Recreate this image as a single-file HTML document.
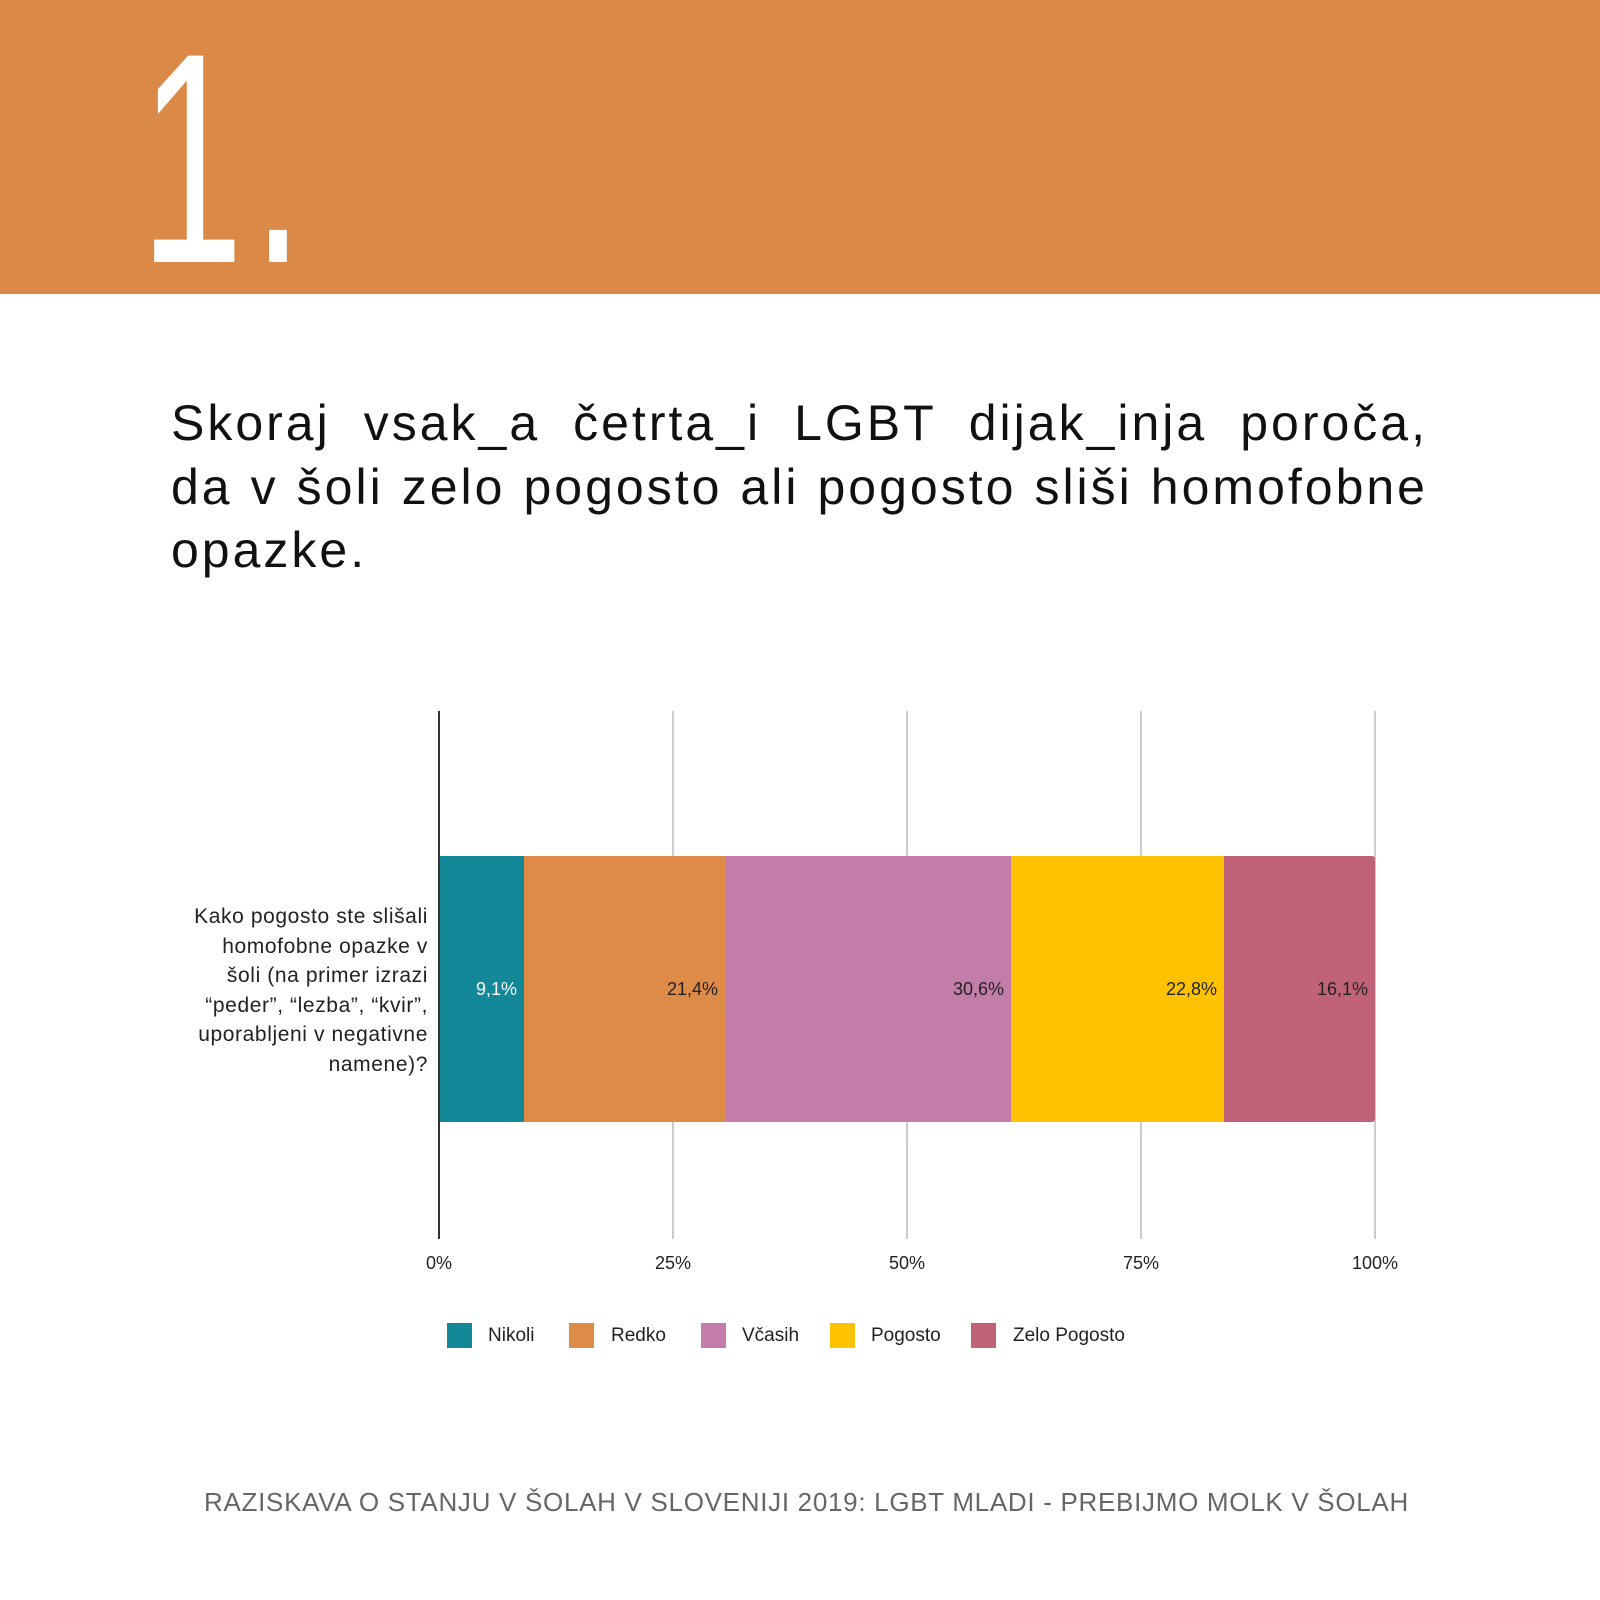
<!DOCTYPE html>
<html><head><meta charset="utf-8"><style>
body{margin:0;width:1600px;height:1600px;background:#fff;position:relative;overflow:hidden;font-family:"Liberation Sans","DejaVu Sans",sans-serif}
.hdr{position:absolute;left:0;top:0;width:1600px;height:294px;background:#DB8946}
.num{position:absolute;left:140px;top:8px;font-size:300px;color:#fff;font-weight:100;line-height:1;letter-spacing:14px;transform:scaleX(0.62);transform-origin:left top}
.hl{position:absolute;left:171px;width:1257px;font-size:50px;line-height:63.5px;color:#111;text-align:justify;text-align-last:justify;white-space:nowrap;letter-spacing:3px}
.grid{position:absolute;top:711px;height:528px;width:2px;background:#ccc}
.bar{position:absolute;top:856px;height:266px}
.val{position:absolute;top:979px;font-size:18px;color:#222;text-align:right}
.tick{position:absolute;top:1253px;font-size:18px;color:#222;width:80px;text-align:center}
.q{position:absolute;right:1172px;top:902px;width:300px;text-align:right;font-size:21px;letter-spacing:0.6px;line-height:29.6px;color:#222;white-space:nowrap}
.sq{position:absolute;top:1323px;width:25px;height:25px}
.lt{position:absolute;top:1323px;font-size:19px;line-height:25px;color:#222}
.foot{position:absolute;left:204px;top:1487px;font-size:26px;color:#666;letter-spacing:0.7px;white-space:nowrap}
</style></head><body>
<div class="hdr"></div>
<div class="num">1.</div>
<div class="hl" style="top:392px">Skoraj vsak_a četrta_i LGBT dijak_inja poroča,</div>
<div class="hl" style="top:455.5px">da v šoli zelo pogosto ali pogosto sliši homofobne</div>
<div class="hl" style="top:519px;text-align-last:left">opazke.</div>

<div class="grid" style="left:672px"></div>
<div class="grid" style="left:906px"></div>
<div class="grid" style="left:1140px"></div>
<div class="grid" style="left:1374px"></div>

<div class="bar" style="left:439px;width:85px;background:#138898"></div>
<div class="bar" style="left:524px;width:201px;background:#DF8B48"></div>
<div class="bar" style="left:725px;width:286px;background:#C27DAA"></div>
<div class="bar" style="left:1011px;width:213px;background:#FFC200"></div>
<div class="bar" style="left:1224px;width:151px;background:#C06378;border-radius:0 3px 3px 0"></div>
<div class="grid" style="left:438px;background:#333;width:2px"></div>

<div class="val" style="right:1083px;color:#fff">9,1%</div>
<div class="val" style="right:882px">21,4%</div>
<div class="val" style="right:596px">30,6%</div>
<div class="val" style="right:383px">22,8%</div>
<div class="val" style="right:232px">16,1%</div>

<div class="q">Kako pogosto ste slišali<br>homofobne opazke v<br>šoli (na primer izrazi<br>“peder”, “lezba”, “kvir”,<br>uporabljeni v negativne<br>namene)?</div>

<div class="tick" style="left:399px">0%</div>
<div class="tick" style="left:633px">25%</div>
<div class="tick" style="left:867px">50%</div>
<div class="tick" style="left:1101px">75%</div>
<div class="tick" style="left:1335px">100%</div>

<div class="sq" style="left:447px;background:#138898"></div><div class="lt" style="left:488px">Nikoli</div>
<div class="sq" style="left:569px;background:#DF8B48"></div><div class="lt" style="left:611px">Redko</div>
<div class="sq" style="left:701px;background:#C27DAA"></div><div class="lt" style="left:742px">Včasih</div>
<div class="sq" style="left:830px;background:#FFC200"></div><div class="lt" style="left:871px">Pogosto</div>
<div class="sq" style="left:971px;background:#C06378"></div><div class="lt" style="left:1013px">Zelo Pogosto</div>

<div class="foot">RAZISKAVA O STANJU V ŠOLAH V SLOVENIJI 2019: LGBT MLADI - PREBIJMO MOLK V ŠOLAH</div>
</body></html>
